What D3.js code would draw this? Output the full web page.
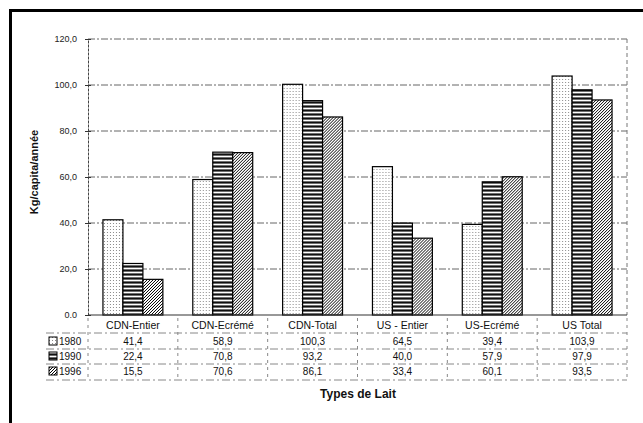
<!DOCTYPE html>
<html>
<head>
<meta charset="utf-8">
<script src="https://cdn.jsdelivr.net/npm/d3@7/dist/d3.min.js"></script>
<style>
  html, body { margin: 0; padding: 0; background: #fff; }
  svg { display: block; font-family: "Liberation Sans", Arial, sans-serif; }
</style>
</head>
<body>
<svg id="chart" width="643" height="423"></svg>
<script>
// Milk consumption per type, kg per capita per year
const categories = ["CDN-Entier", "CDN-Ecrémé", "CDN-Total", "US - Entier", "US-Ecrémé", "US Total"];
const years = ["1980", "1990", "1996"];
const values1980 = [41.4, 58.9, 100.3, 64.5, 39.4, 103.9];
const values1990 = [22.4, 70.8, 93.2, 40.0, 57.9, 97.9];
const values1996 = [15.5, 70.6, 86.1, 33.4, 60.1, 93.5];
const yTicks = [0, 20, 40, 60, 80, 100, 120];
const yTickLabels = ["0.0", "20,0", "40,0", "60,0", "80,0", "100,0", "120,0"];
const tableLabels = [
  ["41,4", "58,9", "100,3", "64,5", "39,4", "103,9"],
  ["22,4", "70,8", "93,2", "40,0", "57,9", "97,9"],
  ["15,5", "70,6", "86,1", "33,4", "60,1", "93,5"]
];
const seriesValues = [values1980, values1990, values1996];

const svg = d3.select("#chart");
const W = 643, H = 423;
const plot = { left: 88, right: 627, top: 39, bottom: 315 };

// Fill patterns for each year
const defs = svg.append("defs");
const pDots = defs.append("pattern").attr("id", "pat1980")
  .attr("patternUnits", "userSpaceOnUse").attr("width", 3).attr("height", 3);
pDots.append("rect").attr("width", 3).attr("height", 3).attr("fill", "#fff");
pDots.append("rect").attr("x", 1).attr("y", 1).attr("width", 1).attr("height", 1).attr("fill", "#8a8a8a");

const pStripes = defs.append("pattern").attr("id", "pat1990")
  .attr("patternUnits", "userSpaceOnUse").attr("width", 4).attr("height", 4);
pStripes.append("rect").attr("width", 4).attr("height", 4).attr("fill", "#6e6e6e");
pStripes.append("rect").attr("y", 0).attr("width", 4).attr("height", 1).attr("fill", "#fff");
pStripes.append("rect").attr("y", 2).attr("width", 4).attr("height", 1).attr("fill", "#111");

const pHatch = defs.append("pattern").attr("id", "pat1996")
  .attr("patternUnits", "userSpaceOnUse").attr("width", 3).attr("height", 3);
pHatch.append("rect").attr("width", 3).attr("height", 3).attr("fill", "#fff");
pHatch.append("path").attr("d", "M-1,1 L1,-1 M0,3 L3,0 M2,4 L4,2")
  .attr("stroke", "#000").attr("stroke-width", 1);

const fills = ["url(#pat1980)", "url(#pat1990)", "url(#pat1996)"];

// Outer frame (top and left thick edges)
svg.append("rect").attr("x", 9).attr("y", 9).attr("width", W - 9).attr("height", 3).attr("fill", "#000");
svg.append("rect").attr("x", 9).attr("y", 9).attr("width", 3).attr("height", H - 9).attr("fill", "#000");

// Scales
const x0 = d3.scaleBand().domain(categories).range([plot.left, plot.right]).paddingInner(0.333).paddingOuter(0.1665);
const x1 = d3.scaleBand().domain(years).range([0, x0.bandwidth()]);
const y = d3.scaleLinear().domain([0, 120]).range([plot.bottom, plot.top]);

// Gridlines
svg.append("g").selectAll("line").data(yTicks.filter(d => d > 0)).join("line")
  .attr("x1", plot.left).attr("x2", plot.right)
  .attr("y1", d => y(d)).attr("y2", d => y(d))
  .attr("stroke", "#666").attr("stroke-width", 1)
  .attr("stroke-dasharray", "7,2,2,2");

// Right edge of plot area
svg.append("line").attr("x1", plot.right).attr("x2", plot.right)
  .attr("y1", plot.top).attr("y2", plot.bottom)
  .attr("stroke", "#777").attr("stroke-dasharray", "4,3");

// Bars
const groups = svg.append("g").selectAll("g").data(categories).join("g")
  .attr("transform", d => `translate(${x0(d)},0)`);
groups.selectAll("rect").data((c, i) => years.map((yr, s) => ({ yr, s, v: seriesValues[s][i] })))
  .join("rect")
  .attr("x", d => x1(d.yr))
  .attr("y", d => y(d.v))
  .attr("width", x1.bandwidth())
  .attr("height", d => y(0) - y(d.v))
  .attr("fill", d => fills[d.s])
  .attr("stroke", "#000").attr("stroke-width", 1.2);

// Y axis
const yAxis = d3.axisLeft(y).tickValues(yTicks)
  .tickFormat((d, i) => yTickLabels[i]).tickSize(3).tickSizeOuter(0);
const gy = svg.append("g").attr("transform", `translate(${plot.left},0)`).call(yAxis);
gy.select(".domain").attr("stroke", "#444").attr("stroke-dasharray", "3,1");
gy.selectAll(".tick line").attr("stroke", "#333").attr("x2", 3).attr("x1", -3);
gy.selectAll(".tick text").attr("x", -11).attr("font-size", 9)
  .attr("font-family", "Liberation Sans, Arial, sans-serif").attr("fill", "#222");

// X axis line
svg.append("line").attr("x1", plot.left).attr("x2", plot.right)
  .attr("y1", plot.bottom).attr("y2", plot.bottom)
  .attr("stroke", "#333").attr("stroke-width", 1.2);

// Y title
svg.append("text")
  .attr("transform", `translate(38,172) rotate(-90)`)
  .attr("text-anchor", "middle")
  .attr("font-size", 11).attr("font-weight", "bold").attr("fill", "#111")
  .text("Kg/capita/année");

// Data table under the chart
const rowY = [329, 345, 360, 375];
const cx = d => x0(d) + x0.bandwidth() / 2;

svg.append("g").selectAll("text").data(categories).join("text")
  .attr("x", d => cx(d)).attr("y", rowY[0])
  .attr("text-anchor", "middle").attr("font-size", 10.5).attr("fill", "#111")
  .text(d => d);

tableLabels.forEach((row, r) => {
  svg.append("g").selectAll("text").data(row).join("text")
    .attr("x", (d, i) => cx(categories[i])).attr("y", rowY[r + 1])
    .attr("text-anchor", "middle").attr("font-size", 10).attr("fill", "#111")
    .text(d => d);
});

// Table grid lines
const tableTop = 318, tableBottom = 380;
const colEdges = categories.map(c => x0(c) - x0.step() * x0.paddingInner() / 2).concat([plot.right]);
svg.append("g").selectAll("line").data(colEdges).join("line")
  .attr("x1", d => d).attr("x2", d => d)
  .attr("y1", tableTop).attr("y2", tableBottom)
  .attr("stroke", "#888").attr("stroke-dasharray", "3,4");
svg.append("g").selectAll("line").data([333, 349, 364, 380]).join("line")
  .attr("x1", 46).attr("x2", plot.right)
  .attr("y1", d => d).attr("y2", d => d)
  .attr("stroke", "#888").attr("stroke-dasharray", "8,3,2,3");

// Legend keys and year labels in the table
years.forEach((yr, s) => {
  svg.append("rect").attr("x", 49).attr("y", rowY[s + 1] - 8)
    .attr("width", 8).attr("height", 8)
    .attr("fill", fills[s]).attr("stroke", "#000").attr("stroke-width", 1);
  svg.append("text").attr("x", 59).attr("y", rowY[s + 1])
    .attr("font-size", 10).attr("fill", "#111").text(yr);
});

// X title
svg.append("text").attr("x", 358).attr("y", 398)
  .attr("text-anchor", "middle").attr("font-size", 12).attr("font-weight", "bold").attr("fill", "#111")
  .text("Types de Lait");
</script>
</body>
</html>
